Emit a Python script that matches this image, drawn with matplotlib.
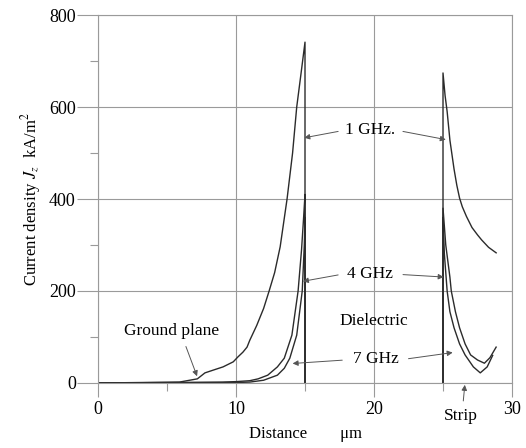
import matplotlib
matplotlib.use('Agg')
import matplotlib.pyplot as plt
from matplotlib.ticker import MultipleLocator

# 1 GHz, ground-plane side and strip side (kA/m^2)
x1_left = [0, 3, 5.9, 7.2, 7.75, 8.35, 9.06, 9.8, 10.15, 10.5, 10.8, 11.0, 11.5, 12.0, 12.4, 12.8, 13.2,
           13.7, 14.1, 14.4, 14.7, 15]
y1_left = [0, 1, 2, 9, 22, 28, 35, 46, 57, 67, 78, 93, 125, 162, 200, 240, 296,
           400, 500, 600, 670, 741]
x1_right = [25, 25.15, 25.3, 25.5, 25.8, 26.0, 26.2, 26.4, 26.7, 27.1, 27.5, 27.8, 28.3, 28.85]
y1_right = [674, 625, 590, 528, 465, 430, 402, 383, 362, 338, 322, 311, 295, 283]

# 4 GHz
x4_left = [0, 5, 9, 10, 11, 11.6, 12.3, 13.0, 13.5, 14.05, 14.5, 14.75, 14.9, 15]
y4_left = [0, 1, 2, 3, 5, 9, 17, 35, 54, 104, 200, 290, 360, 410]
x4_right = [25, 25.2, 25.5, 25.6, 25.9, 26.2, 26.6, 27.0, 27.5, 28.0, 28.4, 28.85]
y4_right = [380, 300, 230, 200, 155, 120, 85, 61, 50, 43, 55, 78]

# 7 GHz
x7_left = [0, 10, 11, 12, 13.0, 13.5, 13.9, 14.4, 14.8, 14.95, 15]
y7_left = [0, 1, 2, 6, 17, 32, 54, 104, 200, 300, 360]
x7_right = [25, 25.1, 25.2, 25.3, 25.5, 25.8, 26.2, 26.6, 27.2, 27.7, 28.2, 28.6]
y7_right = [360, 280, 240, 200, 155, 120, 85, 61, 35, 22, 35, 60]

plt.rcParams['font.family'] = ['Liberation Serif', 'DejaVu Serif']
plt.rcParams['mathtext.fontset'] = 'stix'

fig = plt.figure(figsize=(5.26, 4.48), dpi=100)
ax = fig.add_axes([0.1863, 0.1451, 0.7871, 0.8214])

lc = '#2b2b2b'
gc = '#9a9a9a'

curves = [(x1_left, y1_left, x1_right, y1_right),
          (x4_left, y4_left, x4_right, y4_right),
          (x7_left, y7_left, x7_right, y7_right)]
for xl, yl, xr, yr in curves:
    # drop to zero at the dielectric edge, rise again at the strip edge
    ax.plot(xl + [xl[-1]], yl + [0], color=lc, lw=1.0)
    ax.plot([xr[0]] + xr, [0] + yr, color=lc, lw=1.0)

ax.set_xlim(0, 30)
ax.set_ylim(0, 800)
ax.xaxis.set_major_locator(MultipleLocator(10))
ax.xaxis.set_minor_locator(MultipleLocator(5))
ax.yaxis.set_major_locator(MultipleLocator(200))
ax.yaxis.set_minor_locator(MultipleLocator(100))
ax.grid(True, which='major', color=gc, lw=0.8)
for s in ax.spines.values():
    s.set_color(gc)
    s.set_linewidth(0.8)
ax.tick_params(axis='y', which='major', length=15, width=0.8, color=gc, labelsize=13, pad=1)
ax.tick_params(axis='y', which='minor', length=6, width=0.8, color=gc)
ax.tick_params(axis='x', which='major', length=10, width=0.8, color=gc, labelsize=13, pad=3)
ax.tick_params(axis='x', which='minor', length=6, width=0.8, color=gc)

ax.set_xlabel('Distance        \u03bcm', fontsize=12, labelpad=6)
ax.set_ylabel('Current density $J_z$  kA/m$^2$', fontsize=12, labelpad=4)

arrow = dict(arrowstyle='-|>', color='#555555', lw=0.7, mutation_scale=8)
fs = 12.5
ax.text(19.7, 550, '1 GHz.', ha='center', va='center', fontsize=fs)
ax.annotate('', xy=(14.75, 532), xytext=(17.6, 548), arrowprops=arrow)
ax.annotate('', xy=(25.4, 528), xytext=(21.9, 548), arrowprops=arrow)

ax.text(19.7, 237, '4 GHz', ha='center', va='center', fontsize=fs)
ax.annotate('', xy=(14.65, 220), xytext=(17.6, 236), arrowprops=arrow)
ax.annotate('', xy=(25.25, 230), xytext=(21.9, 236), arrowprops=arrow)

ax.text(20.0, 135, 'Dielectric', ha='center', va='center', fontsize=fs)

ax.text(20.1, 52, '7 GHz', ha='center', va='center', fontsize=fs)
ax.annotate('', xy=(13.9, 42), xytext=(17.9, 50), arrowprops=arrow)
ax.annotate('', xy=(25.9, 67), xytext=(22.3, 52), arrowprops=arrow)

ax.text(5.3, 113, 'Ground plane', ha='center', va='center', fontsize=fs)
ax.annotate('', xy=(7.25, 9), xytext=(6.3, 85), arrowprops=arrow)

ax.text(26.3, -72, 'Strip', ha='center', va='center', fontsize=fs, clip_on=False)
ax.annotate('', xy=(26.6, 2), xytext=(26.45, -45), arrowprops=arrow, annotation_clip=False)

fig.savefig('out.png', dpi=100)
